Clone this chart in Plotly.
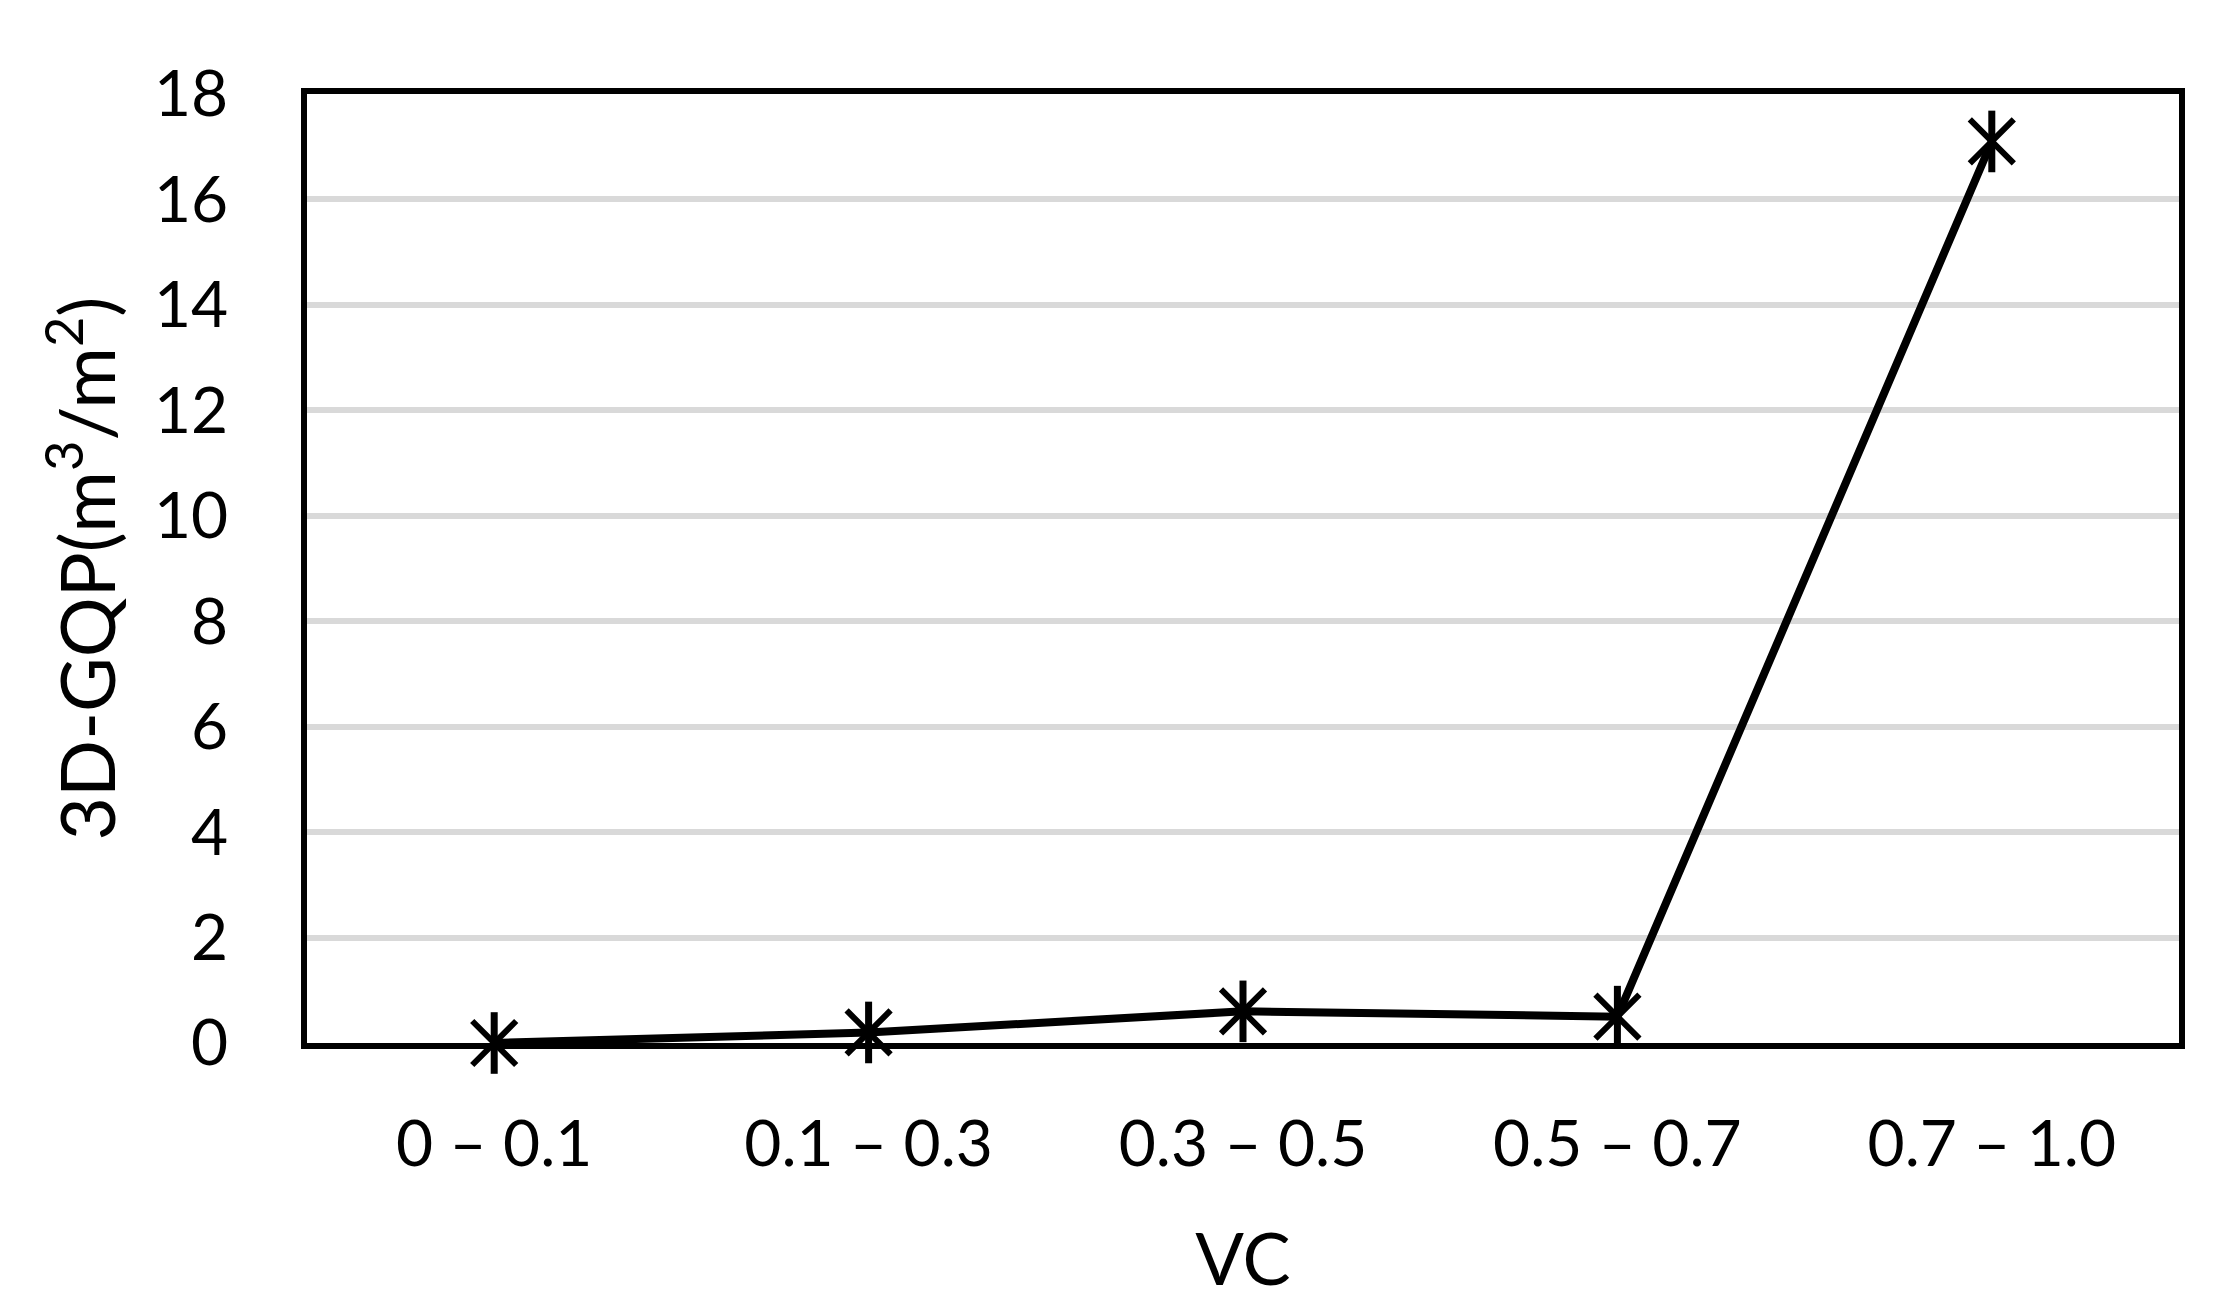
import plotly.graph_objects as go

# values
vc_classes = ["0 – 0.1", "0.1 – 0.3", "0.3 – 0.5", "0.5 – 0.7", "0.7 – 1.0"]
gqp_values = [0.0, 0.2, 0.6, 0.5, 17.1]
y_ticks = [0, 2, 4, 6, 8, 10, 12, 14, 16, 18]

FONT = "Lato, Calibri, Carlito, sans-serif"

fig = go.Figure()

fig.add_trace(
    go.Scatter(
        x=vc_classes,
        y=gqp_values,
        mode="lines",
        line=dict(color="black", width=8),
        cliponaxis=False,
        showlegend=False,
    )
)

# Excel-style star marker: an X plus a vertical bar
fig.add_trace(
    go.Scatter(
        x=vc_classes,
        y=gqp_values,
        mode="markers",
        marker=dict(symbol="x-thin-open", size=44, color="black", line=dict(color="black", width=6)),
        cliponaxis=False,
        showlegend=False,
    )
)
fig.add_trace(
    go.Scatter(
        x=vc_classes,
        y=gqp_values,
        mode="markers",
        marker=dict(symbol="line-ns-open", size=44, color="black", line=dict(color="black", width=7)),
        cliponaxis=False,
        showlegend=False,
    )
)

fig.update_layout(
    width=2231,
    height=1314,
    plot_bgcolor="white",
    paper_bgcolor="white",
    margin=dict(l=299, r=60, t=86, b=279),
    font=dict(family=FONT, size=64, color="black"),
)

fig.update_xaxes(
    type="category",
    range=[-0.5, 4.5],
    showline=True,
    linecolor="black",
    linewidth=6,
    mirror=True,
    showgrid=False,
    ticks="",
    ticklabelstandoff=40,
    tickfont=dict(size=64),
    title=dict(text="VC", font=dict(size=72), standoff=58),
)

fig.update_yaxes(
    range=[0, 18],
    tickvals=y_ticks,
    showline=True,
    linecolor="black",
    linewidth=6,
    mirror=True,
    showgrid=True,
    gridcolor="#d9d9d9",
    gridwidth=6,
    zeroline=False,
    ticks="",
    ticklabelstandoff=60,
    tickfont=dict(size=64),
    title=dict(text="3D-GQP(m<sup>3</sup>/m<sup>2</sup>)", font=dict(size=75), standoff=16),
)

fig.write_html("out.html")
